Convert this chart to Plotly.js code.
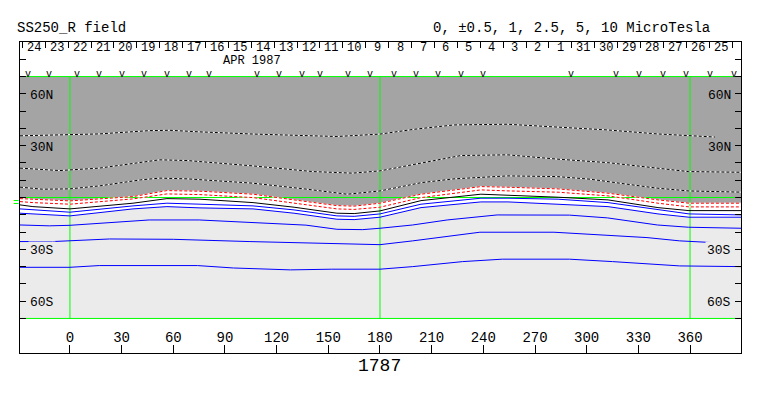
<!DOCTYPE html>
<html><head><meta charset="utf-8">
<script src="https://cdn.plot.ly/plotly-3.0.1.min.js"></script>
<style>html,body{margin:0;padding:0;background:#fff}#chart{width:763px;height:396px}</style>
</head><body><div id="chart"></div>
<script>
// ---- axis / frame values ----
const lonMin = -29, lonMax = 389.6;
const mapLat = 70;
const xTickVals = [0, 30, 60, 90, 120, 150, 180, 210, 240, 270, 300, 330, 360];
const yTickVals = [-80, -70, -60, -50, -40, -30, -20, -10, 0, 10, 20, 30, 40, 50, 60, 70, 80];
const latLabels = ['60N', '30N', '30S', '60S'];
const latLabelVals = [60, 30, -30, -60];
const greenLons = [0, 180, 360];
const greenLats = [70, 0, -70];
const rotation = '1787';

// ---- day row (top) ----
const dayLabels = ['24','23','22','21','20','19','18','17','16','15','14','13','12','11','10','9','8','7','6','5','4','3','2','1','31','30','29','28','27','26','25'];
const firstDayLon = -27.6, degPerDay = 13.29;
const obsLons = [-24.4, -12.2, 4.1, 16.8, 30.2, 43.0, 56.3, 69.1, 80.7, 108.6, 121.4, 134.7, 145.2, 161.4, 174.2, 188.1, 200.9, 213.7, 227.0, 239.8, 290.9, 317.0, 330.4, 344.3, 357.7, 371.6, 385.5];

// ---- contours near the neutral line (common longitude grid) ----
const lonN   = [-29, -21.5, 0, 36.6, 56.3, 75.5, 106.3, 130.1, 155, 165, 180, 203.8, 238.6, 254.3, 283.4, 312.4, 341.4, 359.4, 389.6];
const pos1   = [-0.64, -0.98, -1.97, 0.52, 4.00, 3.65, 1.91, -1.39, -4.69, -5.0, -3.30, 1.91, 6.31, 5.96, 4.98, 2.49, -1.39, -3.30, -3.30];
const pos05  = [-2.37, -2.95, -3.88, -0.81, 2.08, 1.68, -0.06, -3.30, -6.60, -6.9, -5.62, -0.06, 4.40, 3.82, 3.07, 0.93, -3.30, -5.44, -5.44];
const zero0  = [-4.28, -5.27, -6.60, -3.30, -0.64, -0.98, -2.95, -5.62, -9.09, -9.3, -7.76, -1.80, 1.91, 1.33, 0.17, -1.39, -5.85, -7.59, -7.59];
const neg05  = [-6.60, -7.18, -8.51, -4.86, -3.30, -3.88, -4.86, -7.18, -10.65, -10.9, -9.50, -3.88, -0.41, -0.41, -0.98, -2.95, -7.18, -9.50, -10.08];
const neg1   = [-9.09, -9.50, -10.65, -6.60, -5.27, -6.02, -6.60, -9.09, -12.57, -12.8, -11.41, -5.85, -2.55, -2.55, -3.88, -5.27, -9.50, -11.41, -11.41];

// ---- positive contours ----
const pos10Lon = [-29, 0, 17, 46, 58, 75, 107, 155, 180, 200, 223, 254, 283, 312, 341, 359, 374.5];
const pos10Lat = [35.7, 36.2, 36.8, 38.7, 38.9, 38.0, 36.7, 35.3, 36.7, 39.5, 42.0, 42.4, 40.7, 39.1, 36.8, 35.9, 35.0];
const pos5Lon  = [-29, -6, 17, 37, 52, 68, 106, 141, 164, 180, 204, 227, 254, 283, 312, 341, 359, 389.6];
const pos5Lat  = [17.0, 15.6, 17.0, 19.9, 21.8, 21.4, 18.3, 15.0, 14.1, 15.4, 19.9, 24.3, 24.7, 22.2, 20.2, 17.0, 15.0, 14.6];
const pos25Lon = [-29, -16, 0, 17, 41, 52, 68, 85, 106, 136, 161, 180, 204, 223, 242, 254, 283, 302, 322, 341, 359, 389.6];
const pos25Lat = [6.0, 4.8, 5.0, 6.7, 10.2, 11.2, 10.8, 9.8, 8.3, 5.0, 1.9, 3.8, 8.6, 10.8, 11.8, 12.5, 12.1, 10.6, 7.9, 5.4, 3.8, 3.1];

// ---- negative contours ----
const neg25Lon = [-29, -12, 0, 17, 46, 75, 104, 137, 155, 170, 180, 199, 219, 248, 290, 312, 341, 359, 389.6];
const neg25Lat = [-15.9, -16.4, -16.1, -14.9, -13.0, -13.0, -14.3, -16.0, -18.4, -18.6, -17.8, -15.9, -13.0, -10.1, -10.2, -11.8, -15.9, -17.2, -17.8];
const neg5Lon  = [-29, -10, 23, 60, 104, 155, 180, 199, 219, 238, 281, 306, 335, 354, 373.5];
const neg5Lat  = [-25.5, -25.5, -24.0, -24.2, -25.5, -27.0, -27.3, -25.1, -22.6, -20.1, -20.1, -21.7, -23.2, -25.1, -26.1];
const neg10Lon = [-29, 0, 17, 74, 95, 128, 152, 180, 199, 228, 251, 290, 315, 335, 354, 389.6];
const neg10Lat = [-40.4, -40.4, -39.4, -39.4, -40.8, -41.9, -41.5, -41.5, -40.0, -37.1, -35.7, -35.7, -37.1, -38.6, -39.6, -40.0];

// ---- styles ----
const FONT = 'Liberation Mono, Courier New, monospace';
const GREY = '#a4a4a4', LIGHT = '#ebebeb', GREEN = '#00ff00';

const traces = [];
const base = {type: 'scatter', mode: 'lines', hoverinfo: 'skip', showlegend: false};

// positive polarity fill (grey) above +1 contour
traces.push(Object.assign({}, base, {
  x: lonN.concat([lonMax, lonMin]), y: pos1.concat([mapLat, mapLat]),
  fill: 'toself', fillcolor: GREY, line: {width: 0}
}));
// weak-field band (white) between +1 and -1
traces.push(Object.assign({}, base, {
  x: lonN.concat(lonN.slice().reverse()), y: pos1.concat(neg1.slice().reverse()),
  fill: 'toself', fillcolor: '#ffffff', line: {width: 0}
}));
// green reference lines
greenLons.forEach(g => traces.push(Object.assign({}, base, {x: [g, g], y: [-mapLat, mapLat], line: {color: GREEN, width: 1}})));
greenLats.forEach(g => traces.push(Object.assign({}, base, {x: [lonMin, lonMax], y: [g, g], line: {color: GREEN, width: 1}})));

function dashed(x, y, color) {
  traces.push(Object.assign({}, base, {x, y, line: {color: '#ffffff', width: 1}}));
  traces.push(Object.assign({}, base, {x, y, line: {color, width: 1, dash: '3px,2px'}}));
}
function solid(x, y, color) {
  traces.push(Object.assign({}, base, {x, y, line: {color, width: 1}}));
}
dashed(pos10Lon, pos10Lat, '#000000');
dashed(pos5Lon, pos5Lat, '#000000');
dashed(pos25Lon, pos25Lat, '#000000');
dashed(lonN, pos1, '#ff0000');
dashed(lonN, pos05, '#ff0000');
solid(lonN, zero0, '#000000');
solid(lonN, neg05, '#0000ff');
solid(lonN, neg1, '#0000ff');
solid(neg25Lon, neg25Lat, '#0000ff');
solid(neg5Lon, neg5Lat, '#0000ff');
solid(neg10Lon, neg10Lat, '#0000ff');

// observation marks row
traces.push({type: 'scatter', mode: 'text', xaxis: 'x2', yaxis: 'y',
  x: obsLons, y: obsLons.map(() => 71.2), text: obsLons.map(() => 'v'),
  textposition: 'middle center', textfont: {family: FONT, size: 10, color: '#000'},
  hoverinfo: 'skip', showlegend: false, cliponaxis: false});

const dayTicks = [], dayCenters = [];
for (let i = 0; i <= dayLabels.length; i++) dayTicks.push(firstDayLon + i * degPerDay);
for (let i = 0; i < dayLabels.length; i++) dayCenters.push(firstDayLon + (i + 0.5) * degPerDay);

const annotations = [];
dayLabels.forEach((d, i) => annotations.push({x: dayCenters[i], y: 86.6, xref: 'x', yref: 'y', text: d,
  showarrow: false, xanchor: 'center', yanchor: 'middle', font: {family: FONT, size: 12, color: '#000'}}));
annotations.push({x: 105.5, y: 79.1, xref: 'x', yref: 'y', text: 'APR 1987', showarrow: false,
  xanchor: 'center', yanchor: 'middle', font: {family: FONT, size: 12, color: '#000'}});
latLabels.forEach((t, i) => {
  const bg = latLabelVals[i] > 0 ? GREY : LIGHT;
  annotations.push({x: -24.5, y: latLabelVals[i] - 0.9, xref: 'x', yref: 'y', text: t, showarrow: false,
    xanchor: 'left', yanchor: 'middle', bgcolor: bg, borderpad: 1, font: {family: FONT, size: 13, color: '#000'}});
  annotations.push({x: 385.2, y: latLabelVals[i] - 0.9, xref: 'x', yref: 'y', text: t, showarrow: false,
    xanchor: 'right', yanchor: 'middle', bgcolor: bg, borderpad: 1, font: {family: FONT, size: 13, color: '#000'}});
});
annotations.push({x: -0.0069, y: 1.045, xref: 'paper', yref: 'paper', text: 'SS250_R field', showarrow: false,
  xanchor: 'left', yanchor: 'middle', font: {family: FONT, size: 14, color: '#000'}});
annotations.push({x: 0.96, y: 1.045, xref: 'paper', yref: 'paper', text: '0, \u00b10.5, 1, 2.5, 5, 10 MicroTesla', showarrow: false,
  xanchor: 'right', yanchor: 'middle', font: {family: FONT, size: 14, color: '#000'}});
annotations.push({x: -0.005, y: -3.2, xref: 'paper', yref: 'y', text: '=', showarrow: false,
  xanchor: 'center', yanchor: 'middle', font: {family: FONT, size: 10, color: GREEN}});
// rotation number below the longitude axis
annotations.push({x: 180, y: -0.043, xref: 'x', yref: 'paper', text: rotation, showarrow: false,
  xanchor: 'center', yanchor: 'middle', font: {family: FONT, size: 18, color: '#000'}});

const layout = {
  width: 763, height: 396,
  margin: {l: 20, r: 22, t: 42, b: 43, pad: 0},
  paper_bgcolor: '#ffffff', plot_bgcolor: '#ffffff',
  showlegend: false,
  xaxis: {range: [lonMin, lonMax], showgrid: false, zeroline: false, showline: true, mirror: true,
    linecolor: '#000', linewidth: 1, ticks: 'inside', ticklen: 8, tickcolor: '#000',
    tickvals: xTickVals, ticktext: xTickVals.map(String), ticklabelposition: 'inside',
    tickfont: {family: FONT, size: 14, color: '#000'}, automargin: false},
  xaxis2: {overlaying: 'x', side: 'top', anchor: 'y', range: [lonMin, lonMax], showgrid: false, zeroline: false,
    showline: false, ticks: 'inside', ticklen: 6, tickcolor: '#000', tickvals: dayTicks, showticklabels: false},
  yaxis: {range: [-90, 90], showgrid: false, zeroline: false, showline: true, mirror: 'ticks',
    linecolor: '#000', linewidth: 1, ticks: 'inside', ticklen: 6, tickcolor: '#000',
    tickvals: yTickVals, showticklabels: false},
  shapes: [{type: 'rect', xref: 'x', yref: 'y', x0: lonMin, x1: lonMax, y0: -mapLat, y1: mapLat,
    fillcolor: LIGHT, line: {width: 0}, layer: 'below'}],
  annotations: annotations
};

Plotly.newPlot('chart', traces, layout, {displayModeBar: false, staticPlot: true});
</script></body></html>
